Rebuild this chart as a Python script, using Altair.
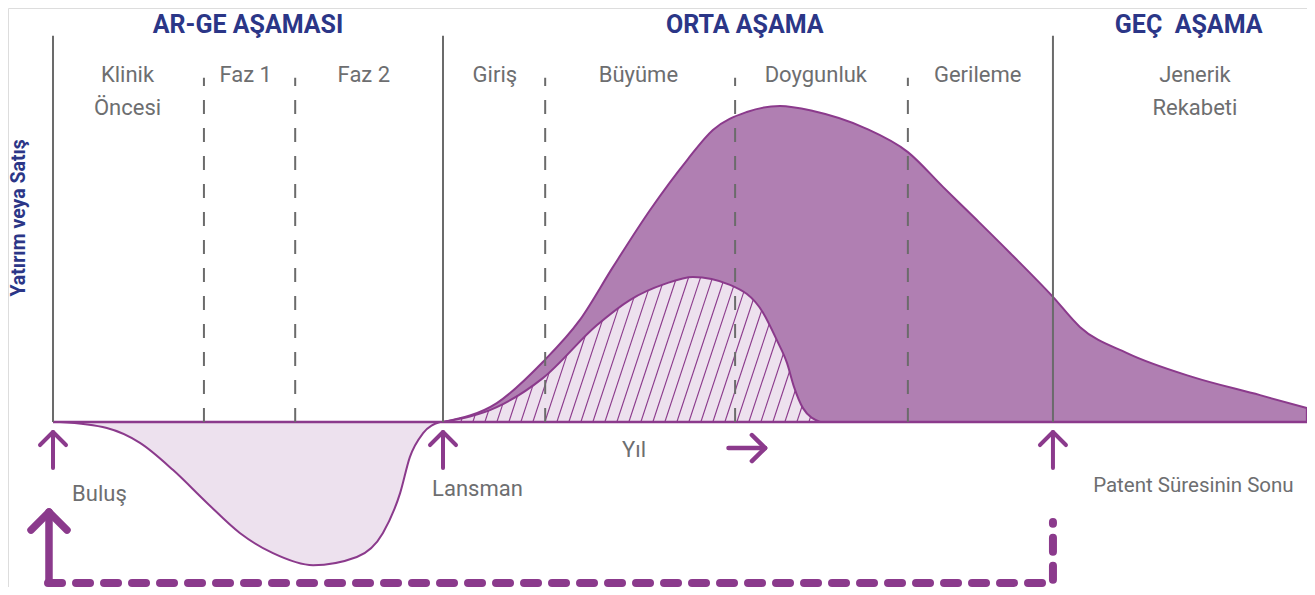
import altair as alt
import numpy as np
import pandas as pd

# ---------------- data (x = years from discovery, y = investment / sales index) -------------
rd_t = [0.18, 1.38, 2.23, 3.08, 3.95, 4.79, 5.64, 6.67, 7.79, 8.46, 8.90, 9.15, 9.49, 9.92]
rd_v = [0.0, -1.9, -6.6, -15.2, -25.6, -35.1, -41.5, -45.3, -42.7, -35.1, -22.5, -11.1, -3.5, 0.0]

sales_t = [10.0, 11.38, 12.56, 13.51, 14.36, 15.31, 16.26, 16.92, 17.79, 18.64, 19.49, 20.82,
           21.92, 22.82, 23.69, 24.54, 25.64, 26.33, 27.54, 29.23, 30.95, 32.15]
sales_v = [0.0, 6.0, 19.0, 32.3, 49.1, 67.1, 82.9, 92.4, 98.1, 100.0, 98.4, 93.0,
           85.4, 74.4, 63.9, 53.5, 39.6, 30.1, 21.8, 14.2, 8.5, 4.4]

hatch_t = [10.0, 11.38, 12.56, 13.95, 14.79, 15.69, 16.41, 17.36, 18.21, 18.56, 18.82, 19.0, 19.23, 19.67]
hatch_v = [0.0, 4.7, 13.9, 30.7, 38.6, 43.7, 45.9, 43.4, 34.5, 25.9, 18.7, 11.1, 4.4, 0.0]

milestones_t = [0.0, 10.0, 25.64]          # Buluş, Lansman, Patent Süresinin Sonu
phase_dividers_t = [3.87, 6.21, 12.62, 17.49, 21.92]

stage_titles = ["AR-GE AŞAMASI", "ORTA AŞAMA", "GEÇ\u00a0\u00a0AŞAMA"]
stage_title_t = [5.0, 17.74, 29.12]

phase_labels = ["Klinik", "Öncesi", "Faz 1", "Faz 2", "Giriş", "Büyüme", "Doygunluk",
                "Gerileme", "Jenerik", "Rekabeti"]
phase_label_t = [1.91, 1.91, 4.94, 7.97, 11.33, 15.01, 19.56, 23.71, 29.28, 29.28]
phase_label_row = [0, 1, 0, 0, 0, 0, 0, 0, 0, 1]

bottom_labels = ["Buluş", "Lansman", "Yıl", "Patent Süresinin Sonu"]
bottom_label_t = [0.49, 9.72, 14.59, 26.67]
bottom_label_v = [-25.0, -23.4, -11.1, -22.15]
bottom_label_size = [22, 22, 22, 20.5]

y_title = "Yatırım veya Satış"

# ---------------- styling -------------
X0, X1 = -1.154, 32.154
Y0, Y1 = -52.2, 131.0
W, H = 1299, 579
PURPLE = "#8b3a8c"
DARK_FILL = "#b07fb2"
LIGHT_FILL = "#ede1ee"
GRAY_LINE = "#6b6b6b"
GRAY_TEXT = "#6d6e70"
NAVY = "#2b3687"
FONT = "Roboto, sans-serif"

xs = alt.Scale(domain=[X0, X1], nice=False, zero=False)
ys = alt.Scale(domain=[Y0, Y1], nice=False, zero=False)


def X(f="t"):
    return alt.X(f"{f}:Q", scale=xs, axis=None)


def Y(f="v"):
    return alt.Y(f"{f}:Q", scale=ys, axis=None)


# ---------------- d3 monotoneX evaluation (for clipping hatch lines) -------------
def mono_tangents(x, y):
    x = np.asarray(x, float); y = np.asarray(y, float)
    n = len(x)
    tg = np.zeros(n)
    for i in range(1, n - 1):
        h0 = x[i] - x[i - 1]; h1 = x[i + 1] - x[i]
        s0 = (y[i] - y[i - 1]) / h0; s1 = (y[i + 1] - y[i]) / h1
        p = (s0 * h1 + s1 * h0) / (h0 + h1)
        tg[i] = (np.sign(s0) + np.sign(s1)) * min(abs(s0), abs(s1), 0.5 * abs(p))
    tg[0] = (3 * (y[1] - y[0]) / (x[1] - x[0]) - tg[1]) / 2
    tg[-1] = (3 * (y[-1] - y[-2]) / (x[-1] - x[-2]) - tg[-2]) / 2
    return x, y, tg


def mono_eval(x, y, tg, q):
    if q < x[0] or q > x[-1]:
        return 0.0
    i = int(np.clip(np.searchsorted(x, q) - 1, 0, len(x) - 2))
    h = x[i + 1] - x[i]
    s = (q - x[i]) / h
    h00 = 2 * s**3 - 3 * s**2 + 1
    h10 = s**3 - 2 * s**2 + s
    h01 = -2 * s**3 + 3 * s**2
    h11 = s**3 - s**2
    return h00 * y[i] + h10 * h * tg[i] + h01 * y[i + 1] + h11 * h * tg[i + 1]


hx, hy, htg = mono_tangents(hatch_t, hatch_v)
k = 0.33 * (579 / (Y1 - Y0)) / (1299 / (X1 - X0))  # slope dt/dv for ~70deg lines
hatch_rows = []
for x0 in np.arange(hatch_t[0] + 0.15, hatch_t[-1], 12 / (1299 / (X1 - X0))):
    v = 0.0
    step = 0.02
    while True:
        vn = v + step
        tq = x0 + k * vn
        if tq > hx[-1] or vn > mono_eval(hx, hy, htg, tq):
            break
        v = vn
    if v > 0:
        hatch_rows.append(dict(t=x0, v=0.0, t2=x0 + k * v, v2=v))
hatch_df = pd.DataFrame(hatch_rows)

# ---------------- layers -------------
rd_area = alt.Chart(pd.DataFrame(dict(t=rd_t, v=rd_v))).mark_area(
    interpolate="monotone", fill=LIGHT_FILL, stroke=PURPLE, strokeWidth=2
).encode(x=X(), y=Y(), y2=alt.datum(0))

sales_area = alt.Chart(pd.DataFrame(dict(t=sales_t, v=sales_v))).mark_area(
    interpolate="monotone", fill=DARK_FILL, stroke=PURPLE, strokeWidth=2
).encode(x=X(), y=Y(), y2=alt.datum(0))

hatch_area = alt.Chart(pd.DataFrame(dict(t=hatch_t, v=hatch_v))).mark_area(
    interpolate="monotone", fill=LIGHT_FILL, stroke=PURPLE, strokeWidth=2
).encode(x=X(), y=Y(), y2=alt.datum(0))

hatch_lines = alt.Chart(hatch_df).mark_rule(color=PURPLE, strokeWidth=1.1).encode(
    x=X(), y=Y(), x2="t2:Q", y2="v2:Q"
)

baseline = alt.Chart(pd.DataFrame(dict(t=[0.0], t2=[X1], v=[0.0]))).mark_rule(
    color=PURPLE, strokeWidth=2.5
).encode(x=X(), x2="t2:Q", y=Y())

solid_lines = alt.Chart(pd.DataFrame(dict(t=milestones_t, v=[0.0] * 3, v2=[122.2] * 3))).mark_rule(
    color=GRAY_LINE, strokeWidth=2
).encode(x=X(), y=Y(), y2="v2:Q")

dashed_lines = alt.Chart(pd.DataFrame(dict(t=phase_dividers_t, v=[0.0] * 5, v2=[108.9] * 5))).mark_rule(
    color=GRAY_LINE, strokeWidth=2, strokeDash=[14, 14]
).encode(x=X(), y=Y(), y2="v2:Q")

titles = alt.Chart(pd.DataFrame(dict(t=stage_title_t, v=[123.0] * 3, label=stage_titles))).mark_text(
    font=FONT, fontSize=25, fontWeight="bold", color=NAVY, align="center", baseline="alphabetic"
).encode(x=X(), y=Y(), text="label:N")

row_v = [107.6, 97.2]
phase_df = pd.DataFrame(dict(t=phase_label_t, v=[row_v[r] for r in phase_label_row], label=phase_labels))
phases = alt.Chart(phase_df).mark_text(
    font=FONT, fontSize=22, color=GRAY_TEXT, align="center", baseline="alphabetic"
).encode(x=X(), y=Y(), text="label:N")

bottoms = alt.Chart(pd.DataFrame(dict(t=bottom_label_t, v=bottom_label_v, label=bottom_labels,
                                      s=bottom_label_size))).mark_text(
    font=FONT, color=GRAY_TEXT, align="left", baseline="alphabetic"
).encode(x=X(), y=Y(), text="label:N", size=alt.Size("s:Q", scale=None))

ytitle = alt.Chart(pd.DataFrame(dict(t=[-0.86], v=[64.6], label=[y_title]))).mark_text(
    font=FONT, fontSize=19.5, fontWeight="bold", color=NAVY, align="center", baseline="middle", angle=270
).encode(x=X(), y=Y(), text="label:N")

# arrows (shaft + head polylines)
arrow_rows = []
pid = 0


def add_poly(pts, w):
    global pid
    for i, (t, v) in enumerate(pts):
        arrow_rows.append(dict(pid=pid, o=i, t=t, v=v, w=w))
    pid += 1


for mt in milestones_t:
    add_poly([(mt, -14.56), (mt, -3.16)], 4)
    add_poly([(mt - 0.333, -7.28), (mt, -3.16), (mt + 0.333, -7.28)], 4)
add_poly([(17.32, -8.23), (18.26, -8.23)], 4.5)
add_poly([(17.92, -4.11), (18.26, -8.23), (17.92, -12.34)], 4.5)
add_poly([(-0.103, -50.0), (-0.103, -28.5)], 7.5)
add_poly([(-0.564, -34.2), (-0.103, -28.5), (0.359, -34.2)], 7.5)

arrows = alt.Chart(pd.DataFrame(arrow_rows)).mark_line(
    color=PURPLE, strokeCap="round", strokeJoin="round"
).encode(x=X(), y=Y(), detail="pid:N", order="o:Q", strokeWidth=alt.StrokeWidth("w:Q", scale=None))

patent_path = alt.Chart(pd.DataFrame(dict(o=[0, 1, 2], t=[-0.128, 25.64, 25.64], v=[-50.9, -50.9, -31.6]))).mark_line(
    color=PURPLE, strokeWidth=8, strokeDash=[14, 14], strokeCap="round"
).encode(x=X(), y=Y(), order="o:Q")

chart = alt.layer(
    rd_area, sales_area, hatch_area, hatch_lines, baseline, solid_lines, dashed_lines,
    titles, phases, bottoms, ytitle, arrows, patent_path
).properties(
    width=W, height=H, padding=0, autosize=alt.AutoSizeParams(type="none")
).configure_view(stroke=None).configure(background="white")

chart.save("out.html", embed_options={"renderer": "svg", "actions": False})
